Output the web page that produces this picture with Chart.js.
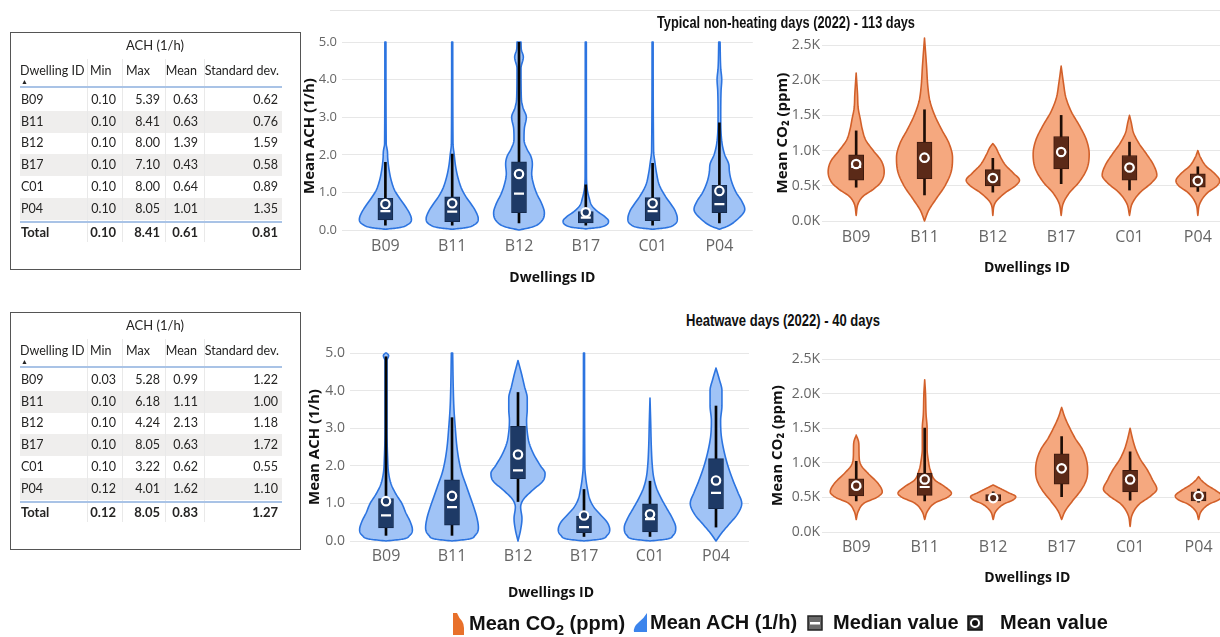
<!DOCTYPE html>
<html>
<head>
<meta charset="utf-8">
<script src="https://cdn.jsdelivr.net/npm/chart.js@4.4.1/dist/chart.umd.min.js"></script>
<style>
  html, body { margin: 0; padding: 0; background: #fff; width: 1220px; height: 637px; overflow: hidden; position: relative; }
  canvas { position: absolute; }
  .abs { position: absolute; white-space: nowrap; }
  .tcell { position: absolute; white-space: nowrap; font-family: Lato, 'Open Sans', sans-serif; font-size: 12.5px; color: #252423; height: 16px; line-height: 16px; }
  .ttl { position: absolute; font-family: 'Liberation Sans', Arial, sans-serif; font-weight: bold; font-size: 16px; color: #111; white-space: nowrap; z-index: 5; transform-origin: 0 50%; }
  .leg { position: absolute; font-family: 'Liberation Sans', Arial, sans-serif; font-weight: bold; font-size: 20px; color: #111; white-space: nowrap; z-index: 5; line-height: 22px; }
  .leg sub { font-size: 15px; vertical-align: -5px; line-height: 0; }
</style>
</head>
<body>
<canvas id="achTop" width="460" height="280" style="left:300px;top:20px"></canvas>
<canvas id="co2Top" width="480" height="280" style="left:760px;top:20px"></canvas>
<canvas id="achHeat" width="460" height="290" style="left:300px;top:330px"></canvas>
<canvas id="co2Heat" width="480" height="270" style="left:760px;top:330px"></canvas>

<div class="abs" style="left:330px;top:10px;width:890px;height:1px;background:#e4e4e4"></div>
<div class="ttl" id="titleTypical" data-w="258" style="left:657px;top:14px">Typical non-heating days (2022) - 113 days</div>
<div class="ttl" id="titleHeat" data-w="194" style="left:686px;top:312px">Heatwave days (2022) - 40 days</div>

<div class="leg" style="left:469px;top:612px">Mean CO<sub>2</sub> (ppm)</div>
<div class="leg" style="left:650px;top:611px">Mean ACH (1/h)</div>
<div class="leg" style="left:833px;top:611px">Median value</div>
<div class="leg" style="left:1000px;top:611px">Mean value</div>
<svg class="abs" style="left:450px;top:612px;z-index:5" width="16" height="24"><path d="M3 1 L7 1 Q9 6 12 9 Q14 12 14 16 L14 23 L3 23 Z" fill="#e8702a"/></svg>
<svg class="abs" style="left:631px;top:612px;z-index:5" width="18" height="22"><path d="M16 1 L16 20 L3 20 Q2 15 8 10 Q13 6 16 1 Z" fill="#3b84ec"/></svg>
<svg class="abs" style="left:807px;top:615px;z-index:5" width="16" height="16"><rect x="1" y="1" width="14" height="14" fill="#6a6a6a" stroke="#222" stroke-width="1.5"/><rect x="3" y="7" width="10" height="2.5" fill="#fff"/></svg>
<svg class="abs" style="left:967px;top:615px;z-index:5" width="16" height="16"><rect x="1" y="1" width="14" height="14" fill="#333" stroke="#111" stroke-width="1.5"/><circle cx="8" cy="8" r="4" fill="#111" stroke="#fff" stroke-width="2"/></svg>

<script>
// categories
const dwellings = ['B09', 'B11', 'B12', 'B17', 'C01', 'P04'];

// ACH tables (1/h)
const tableMinTypical = [0.10, 0.10, 0.10, 0.10, 0.10, 0.10];
const tableMaxTypical = [5.39, 8.41, 8.00, 7.10, 8.00, 8.05];
const tableMeanTypical = [0.63, 0.63, 1.39, 0.43, 0.64, 1.01];
const tableStdTypical = [0.62, 0.76, 1.59, 0.58, 0.89, 1.35];
const tableTotalTypical = [0.10, 8.41, 0.61, 0.81];

const tableMinHeat = [0.03, 0.10, 0.10, 0.10, 0.10, 0.12];
const tableMaxHeat = [5.28, 6.18, 4.24, 8.05, 3.22, 4.01];
const tableMeanHeat = [0.99, 1.11, 2.13, 0.63, 0.62, 1.62];
const tableStdHeat = [1.22, 1.00, 1.18, 1.72, 0.55, 1.10];
const tableTotalHeat = [0.12, 8.05, 0.83, 1.27];

// tick labels
const achTicks = [0, 1, 2, 3, 4, 5];
const co2Ticks = [0, 500, 1000, 1500, 2000, 2500];

// ACH, typical non-heating days: box stats
const achTypQ1 = [0.27, 0.22, 0.46, 0.19, 0.25, 0.46];
const achTypMedian = [0.50, 0.49, 0.97, 0.33, 0.50, 0.69];
const achTypQ3 = [0.84, 0.88, 1.81, 0.49, 0.86, 1.19];
const achTypLow = [0.13, 0.13, 0.19, 0.13, 0.13, 0.19];
const achTypHigh = [1.80, 2.02, 5.00, 1.20, 1.77, 2.85];
const achTypMean = [0.69, 0.71, 1.49, 0.47, 0.71, 1.04];
// violin outlines: [value, half width as share of category band]
const achTypViolin = [
  [[0.02,0],[0.06,0.2],[0.15,0.34],[0.28,0.39],[0.45,0.36],[0.65,0.29],[0.85,0.21],[1.05,0.14],[1.3,0.09],[1.6,0.055],[1.9,0.035],[2.1,0.03],[2.3,0.012],[5.0,0.008]],
  [[0.02,0],[0.06,0.2],[0.15,0.34],[0.3,0.39],[0.5,0.35],[0.7,0.28],[0.9,0.2],[1.1,0.14],[1.4,0.085],[1.7,0.05],[2.0,0.03],[2.3,0.012],[5.0,0.008]],
  [[0.0,0],[0.08,0.2],[0.2,0.32],[0.45,0.38],[0.7,0.34],[0.95,0.27],[1.2,0.22],[1.5,0.19],[1.75,0.2],[1.95,0.18],[2.15,0.12],[2.4,0.075],[2.7,0.08],[3.0,0.11],[3.25,0.06],[3.5,0.035],[4.3,0.03],[4.6,0.065],[4.8,0.035],[5.0,0.03]],
  [[0.03,0],[0.07,0.2],[0.14,0.31],[0.24,0.34],[0.36,0.28],[0.5,0.17],[0.65,0.09],[0.85,0.05],[1.1,0.02],[1.5,0.01],[5.0,0.008]],
  [[0.02,0],[0.06,0.2],[0.15,0.33],[0.3,0.37],[0.5,0.34],[0.7,0.27],[0.9,0.19],[1.2,0.1],[1.5,0.06],[1.8,0.035],[2.1,0.015],[5.0,0.008]],
  [[0.02,0],[0.1,0.12],[0.3,0.28],[0.55,0.38],[0.75,0.34],[1.0,0.25],[1.3,0.18],[1.55,0.15],[1.75,0.14],[2.0,0.08],[2.3,0.04],[3.0,0.02],[3.7,0.025],[4.0,0.035],[4.3,0.02],[5.0,0.01]]
];

// CO2, typical non-heating days (ppm)
const co2TypQ1 = [580, 600, 500, 740, 580, 480];
const co2TypMedian = [770, 890, 600, 980, 760, 580];
const co2TypQ3 = [940, 1120, 730, 1200, 930, 670];
const co2TypLow = [480, 370, 410, 530, 440, 420];
const co2TypHigh = [1280, 1580, 890, 1500, 1120, 770];
const co2TypMean = [810, 900, 610, 980, 760, 570];
const co2TypViolin = [
  [[80,0],[250,0.03],[350,0.1],[450,0.25],[550,0.36],[700,0.41],[850,0.37],[1000,0.25],[1150,0.14],[1300,0.09],[1450,0.06],[1600,0.03],[1800,0.02],[2100,0]],
  [[0,0],[150,0.06],[300,0.16],[500,0.3],[700,0.39],[900,0.41],[1100,0.36],[1300,0.25],[1500,0.15],[1700,0.08],[1900,0.05],[2200,0.03],[2600,0]],
  [[80,0],[250,0.03],[400,0.18],[500,0.33],[580,0.39],[680,0.3],[800,0.18],[950,0.09],[1050,0.04],[1100,0]],
  [[80,0],[250,0.03],[400,0.12],[550,0.26],[750,0.38],[950,0.41],[1150,0.37],[1350,0.27],[1550,0.15],[1750,0.07],[1950,0.035],[2200,0]],
  [[80,0],[250,0.04],[400,0.15],[550,0.33],[650,0.4],[800,0.35],[950,0.25],[1100,0.14],[1250,0.06],[1400,0.025],[1500,0]],
  [[80,0],[250,0.03],[400,0.14],[500,0.28],[570,0.32],[670,0.25],[780,0.12],[900,0.04],[1000,0]]
];

// ACH, heatwave days
const achHeatQ1 = [0.35, 0.42, 1.66, 0.22, 0.24, 0.86];
const achHeatMedian = [0.68, 0.90, 1.88, 0.37, 0.58, 1.28];
const achHeatQ3 = [1.13, 1.63, 3.05, 0.66, 0.99, 2.19];
const achHeatLow = [0.15, 0.15, 1.05, 0.12, 0.12, 0.37];
const achHeatHigh = [4.90, 3.28, 3.95, 1.37, 1.59, 3.59];
const achHeatMean = [1.06, 1.20, 2.30, 0.68, 0.71, 1.61];
const achHeatViolin = [
  [[0.0,0],[0.05,0.25],[0.15,0.36],[0.3,0.4],[0.5,0.37],[0.75,0.3],[1.0,0.24],[1.25,0.15],[1.5,0.08],[1.8,0.04],[2.2,0.025],[3.0,0.015],[4.8,0.015],[4.93,0.04],[5.0,0.01]],
  [[0.0,0],[0.05,0.25],[0.15,0.35],[0.35,0.4],[0.6,0.38],[0.9,0.33],[1.2,0.27],[1.5,0.21],[1.8,0.15],[2.1,0.11],[2.5,0.075],[3.0,0.05],[3.5,0.03],[4.0,0.02],[5.0,0.01]],
  [[0.0,0],[0.3,0.04],[0.6,0.06],[0.9,0.04],[1.1,0.08],[1.35,0.22],[1.6,0.38],[1.8,0.41],[2.0,0.34],[2.3,0.24],[2.6,0.17],[2.9,0.14],[3.2,0.13],[3.5,0.14],[3.8,0.14],[4.1,0.1],[4.4,0.06],[4.8,0]],
  [[0.0,0],[0.05,0.25],[0.15,0.35],[0.3,0.39],[0.5,0.35],[0.7,0.25],[0.9,0.15],[1.1,0.09],[1.4,0.05],[1.7,0.025],[2.0,0.012],[5.0,0.008]],
  [[0.0,0],[0.05,0.25],[0.15,0.35],[0.35,0.39],[0.6,0.34],[0.85,0.26],[1.1,0.18],[1.4,0.1],[1.7,0.055],[2.0,0.035],[2.5,0.02],[3.2,0.01],[3.8,0]],
  [[0.0,0],[0.2,0.08],[0.45,0.2],[0.7,0.32],[1.0,0.39],[1.3,0.33],[1.6,0.26],[2.0,0.18],[2.4,0.12],[2.8,0.08],[3.2,0.07],[3.6,0.09],[4.0,0.09],[4.3,0.05],[4.6,0]]
];

// CO2, heatwave days (ppm)
const co2HeatQ1 = [520, 530, 450, 690, 580, 450];
const co2HeatMedian = [650, 650, 490, 920, 750, 520];
const co2HeatQ3 = [770, 850, 540, 1130, 890, 580];
const co2HeatLow = [450, 450, 440, 510, 460, 430];
const co2HeatHigh = [1020, 1500, 580, 1380, 1160, 620];
const co2HeatMean = [670, 760, 490, 920, 760, 520];
const co2HeatViolin = [
  [[180,0],[300,0.03],[420,0.12],[500,0.3],[580,0.38],[700,0.32],[850,0.17],[950,0.08],[1050,0.045],[1200,0.04],[1300,0.035],[1400,0]],
  [[180,0],[300,0.04],[420,0.15],[500,0.33],[560,0.39],[650,0.3],[750,0.15],[900,0.08],[1050,0.05],[1200,0.035],[1500,0.035],[1700,0.02],[2000,0.012],[2200,0]],
  [[180,0],[300,0.04],[400,0.15],[470,0.3],[510,0.33],[570,0.22],[630,0.1],[680,0]],
  [[180,0],[300,0.05],[450,0.16],[600,0.28],[750,0.36],[900,0.38],[1050,0.36],[1200,0.3],[1350,0.2],[1500,0.12],[1650,0.05],[1800,0]],
  [[80,0],[250,0.03],[400,0.13],[520,0.3],[620,0.39],[750,0.33],[900,0.25],[1050,0.15],[1200,0.08],[1350,0.035],[1500,0]],
  [[180,0],[300,0.04],[400,0.15],[470,0.3],[520,0.34],[600,0.25],[680,0.12],[750,0.04],[800,0]]
];

const FONT = "'Open Sans', sans-serif";
Chart.defaults.font.family = FONT;

// squeeze the condensed-looking titles to the reference width
document.querySelectorAll('.ttl').forEach(el => {
  const w = el.getBoundingClientRect().width;
  el.style.transform = `scaleX(${(+el.dataset.w / w).toFixed(3)})`;
});

// ---------- tables ----------
function cell(text, left, cy, opts = {}) {
  const d = document.createElement('div');
  d.className = 'tcell';
  d.textContent = text;
  d.style.top = (cy - 8) + 'px';
  if (opts.right !== undefined) {
    d.style.left = (opts.right - 80) + 'px';
    d.style.width = '80px';
    d.style.textAlign = 'right';
  } else {
    d.style.left = left + 'px';
  }
  if (opts.bold) d.style.fontWeight = 'bold';
  if (opts.size) d.style.fontSize = opts.size + 'px';
  document.body.appendChild(d);
  return d;
}

function rect(left, top, w, h, color) {
  const d = document.createElement('div');
  d.className = 'abs';
  Object.assign(d.style, { left: left + 'px', top: top + 'px', width: w + 'px', height: h + 'px', background: color });
  document.body.appendChild(d);
  return d;
}

function buildTable(T, mins, maxs, means, stds, total) {
  const box = rect(10, T, 291, 238, 'transparent');
  box.style.border = '1px solid #555';
  box.style.boxSizing = 'border-box';

  const rowY = i => T + 68 + 21.7 * i;
  dwellings.forEach((d, i) => {
    if (i % 2 === 1) rect(20, rowY(i) - 11, 262, 22, '#efeeed');
  });
  [86.5, 122, 164.5, 203.5].forEach(x => rect(x, T + 27, 1, 183, '#e9e9e9'));
  rect(20, T + 54, 262, 2, '#a9c3e6');
  rect(20, T + 189, 262, 2, '#a9c3e6');

  const t = cell('ACH (1/h)', 0, T + 13, { size: 13 });
  t.style.left = '105px'; t.style.width = '100px'; t.style.textAlign = 'center';

  const hy = T + 39;
  cell('Dwelling ID', 20, hy);
  cell('▲', 21, T + 49, { size: 7 });
  cell('Min', 90, hy);
  cell('Max', 126, hy);
  cell('Mean', 0, hy, { right: 197 });
  cell('Standard dev.', 0, hy, { right: 279 });

  dwellings.forEach((d, i) => {
    const y = rowY(i);
    cell(d, 21, y);
    cell(mins[i].toFixed(2), 0, y, { right: 116 });
    cell(maxs[i].toFixed(2), 0, y, { right: 160 });
    cell(means[i].toFixed(2), 0, y, { right: 198 });
    cell(stds[i].toFixed(2), 0, y, { right: 278 });
  });
  const ty = T + 200;
  cell('Total', 21, ty, { bold: true, size: 13 });
  [116, 160, 198, 278].forEach((r, k) => cell(total[k].toFixed(2), 0, ty, { right: r, bold: true, size: 13 }));
}

buildTable(32, tableMinTypical, tableMaxTypical, tableMeanTypical, tableStdTypical, tableTotalTypical);
buildTable(312, tableMinHeat, tableMaxHeat, tableMeanHeat, tableStdHeat, tableTotalHeat);

// ---------- violins ----------
// monotone cubic through the outline knots, so the shape never bulges past them
function smoothOutline(knots, steps) {
  const n = knots.length;
  const xs = knots.map(k => k[0]);
  const ys = knots.map(k => k[1]);
  const d = [];
  const m = [];
  for (let i = 0; i < n - 1; i++) d.push((ys[i + 1] - ys[i]) / (xs[i + 1] - xs[i]));
  m[0] = d[0];
  m[n - 1] = d[n - 2];
  for (let i = 1; i < n - 1; i++) m[i] = d[i - 1] * d[i] <= 0 ? 0 : (d[i - 1] + d[i]) / 2;
  for (let i = 0; i < n - 1; i++) {
    if (d[i] === 0) { m[i] = 0; m[i + 1] = 0; continue; }
    const a = m[i] / d[i], b = m[i + 1] / d[i], s = a * a + b * b;
    if (s > 9) {
      const t = 3 / Math.sqrt(s);
      m[i] = t * a * d[i];
      m[i + 1] = t * b * d[i];
    }
  }
  const out = [];
  for (let i = 0; i < n - 1; i++) {
    const h = xs[i + 1] - xs[i];
    for (let k = 0; k < steps; k++) {
      const t = k / steps, t2 = t * t, t3 = t2 * t;
      const v = (2 * t3 - 3 * t2 + 1) * ys[i] + (t3 - 2 * t2 + t) * h * m[i]
        + (-2 * t3 + 3 * t2) * ys[i + 1] + (t3 - t2) * h * m[i + 1];
      out.push([xs[i] + t * h, Math.max(0, v)]);
    }
  }
  out.push([xs[n - 1], ys[n - 1]]);
  return out;
}

function violinPlugin(profiles, fill, stroke) {
  return {
    id: 'violin',
    beforeDatasetsDraw(chart) {
      const { ctx, scales: { x, y } } = chart;
      const band = x.getPixelForValue(1) - x.getPixelForValue(0);
      ctx.save();
      ctx.fillStyle = fill;
      ctx.strokeStyle = stroke;
      ctx.lineWidth = 1.6;
      ctx.lineJoin = 'round';
      profiles.forEach((prof, i) => {
        const cx = x.getPixelForValue(i);
        const pts = smoothOutline(prof, 10);
        ctx.beginPath();
        pts.forEach(([v, w], k) => {
          const px = cx + w * band, py = y.getPixelForValue(v);
          k === 0 ? ctx.moveTo(px, py) : ctx.lineTo(px, py);
        });
        for (let k = pts.length - 1; k >= 0; k--) {
          ctx.lineTo(cx - pts[k][1] * band, y.getPixelForValue(pts[k][0]));
        }
        ctx.closePath();
        ctx.fill();
        ctx.stroke();
      });
      ctx.restore();
    }
  };
}

// ---------- charts ----------
function buildChart(id, o) {
  return new Chart(document.getElementById(id), {
    type: 'bar',
    data: {
      labels: dwellings,
      datasets: [
        { type: 'line', label: 'Mean', data: o.mean, showLine: false, order: 0,
          pointStyle: 'circle', pointRadius: 4.2, pointBackgroundColor: o.box, pointBorderColor: '#fff', pointBorderWidth: 2.2 },
        { type: 'line', label: 'Median', data: o.median, showLine: false, order: 1,
          pointStyle: 'line', pointRadius: 5, pointBorderColor: '#fff', pointBorderWidth: 2.2 },
        { type: 'bar', label: 'Box', data: o.q1.map((v, i) => [v, o.q3[i]]), order: 2, grouped: false,
          backgroundColor: o.box, borderColor: o.boxEdge, borderWidth: 1, borderSkipped: false, barThickness: 15 },
        { type: 'bar', label: 'Whisker', data: o.low.map((v, i) => [v, o.high[i]]), order: 3, grouped: false,
          backgroundColor: o.whisker, barThickness: 2 }
      ]
    },
    options: {
      responsive: false,
      animation: false,
      events: [],
      layout: { padding: { top: o.padTop, right: o.padRight, left: 0, bottom: 0 } },
      plugins: { legend: { display: false }, tooltip: { enabled: false } },
      scales: {
        x: {
          offset: true,
          grid: { display: false, drawTicks: false },
          border: { display: false },
          ticks: { color: '#666', font: { size: 16 }, padding: o.xTickPad, maxRotation: 0, autoSkip: false },
          title: { display: true, text: 'Dwellings ID', color: '#111', font: { size: 14, weight: 'bold' }, padding: { top: 0, bottom: o.xTitlePad } },
          afterFit: s => { s.height = o.xHeight; }
        },
        y: {
          min: 0,
          max: o.ticks[o.ticks.length - 1],
          afterBuildTicks: s => { s.ticks = o.ticks.map(v => ({ value: v })); },
          grid: { color: '#e7e7e7', drawTicks: o.tickLen > 0, tickLength: o.tickLen },
          border: { display: false },
          ticks: { color: '#666', font: { size: o.yTickSize || 14 }, padding: o.yTickPad, callback: o.fmt },
          title: { display: true, text: o.yTitle, color: '#111', font: { size: 15, weight: 'bold' }, padding: { top: o.yTitlePad, bottom: 0 } },
          afterFit: s => { s.width = o.yWidth; }
        }
      }
    },
    plugins: [violinPlugin(o.violin, o.fill, o.stroke)]
  });
}

const achStyle = { fill: '#a0c3f6', stroke: '#2c74e0', box: '#1e3a66', boxEdge: '#142a4d', whisker: '#050505',
  fmt: v => v.toFixed(1), yTitle: 'Mean ACH (1/h)', ticks: achTicks };
const co2Style = { fill: '#f5a87f', stroke: '#d2602a', box: '#5b2a18', boxEdge: '#3e1a0e', whisker: '#1e0d06',
  fmt: v => (v / 1000).toFixed(1) + 'K', yTitle: 'Mean CO₂ (ppm)', ticks: co2Ticks };

buildChart('achTop', Object.assign({}, achStyle, {
  q1: achTypQ1, median: achTypMedian, q3: achTypQ3, low: achTypLow, high: achTypHigh, mean: achTypMean, violin: achTypViolin,
  padTop: 22, padRight: 6, yWidth: 52, xHeight: 70, tickLen: 10, yTickPad: 5, yTickSize: 13, yTitlePad: 1, xTickPad: 7, xTitlePad: 14
}));
buildChart('co2Top', Object.assign({}, co2Style, {
  q1: co2TypQ1, median: co2TypMedian, q3: co2TypQ3, low: co2TypLow, high: co2TypHigh, mean: co2TypMean, violin: co2TypViolin,
  padTop: 25, padRight: 8, yWidth: 62, xHeight: 79, tickLen: 0, yTickPad: 2, yTitlePad: 14, xTickPad: 7, xTitlePad: 24
}));
buildChart('achHeat', Object.assign({}, achStyle, {
  q1: achHeatQ1, median: achHeatMedian, q3: achHeatQ3, low: achHeatLow, high: achHeatHigh, mean: achHeatMean, violin: achHeatViolin,
  padTop: 23, padRight: 11, yWidth: 53, xHeight: 79, tickLen: 3, yTickPad: 5, yTitlePad: 6, xTickPad: 6, xTitlePad: 19
}));
buildChart('co2Heat', Object.assign({}, co2Style, {
  q1: co2HeatQ1, median: co2HeatMedian, q3: co2HeatQ3, low: co2HeatLow, high: co2HeatHigh, mean: co2HeatMean, violin: co2HeatViolin,
  padTop: 29, padRight: 7, yWidth: 62, xHeight: 68, tickLen: 0, yTickPad: 2, yTitlePad: 9, xTickPad: 6, xTitlePad: 14
}));
</script>
</body>
</html>
